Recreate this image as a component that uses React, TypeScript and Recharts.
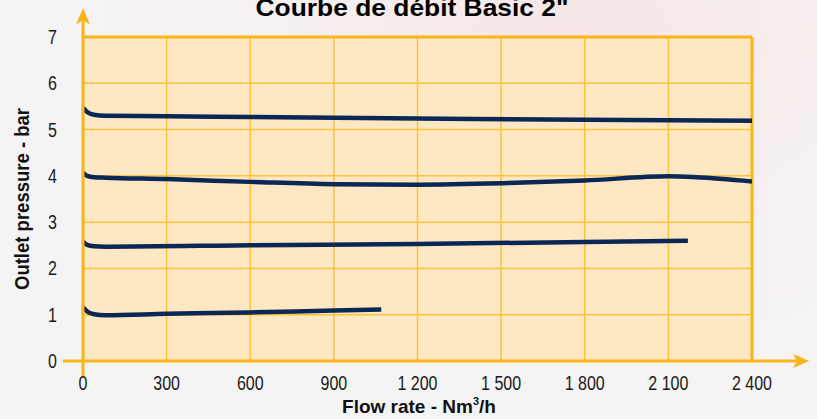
import React from 'react';
import { LineChart, Line, XAxis, YAxis, CartesianGrid, ReferenceLine, Label } from 'recharts';

const xTicks = [0, 300, 600, 900, 1200, 1500, 1800, 2100, 2400];
const yTicks = [0, 1, 2, 3, 4, 5, 6, 7];

const series55 = [
  { flow: 0, p: 5.47 }, { flow: 15, p: 5.38 }, { flow: 40, p: 5.32 }, { flow: 80, p: 5.3 },
  { flow: 300, p: 5.29 }, { flow: 600, p: 5.27 }, { flow: 1200, p: 5.24 }, { flow: 1800, p: 5.21 }, { flow: 2400, p: 5.19 },
];
const series40 = [
  { flow: 0, p: 4.07 }, { flow: 15, p: 4.0 }, { flow: 40, p: 3.97 }, { flow: 80, p: 3.96 },
  { flow: 300, p: 3.93 }, { flow: 600, p: 3.87 }, { flow: 900, p: 3.82 }, { flow: 1200, p: 3.81 },
  { flow: 1500, p: 3.84 }, { flow: 1800, p: 3.9 }, { flow: 2100, p: 3.99 }, { flow: 2200, p: 3.97 }, { flow: 2400, p: 3.88 },
];
const series25 = [
  { flow: 0, p: 2.58 }, { flow: 15, p: 2.51 }, { flow: 40, p: 2.48 }, { flow: 80, p: 2.47 },
  { flow: 600, p: 2.5 }, { flow: 1200, p: 2.53 }, { flow: 1800, p: 2.57 }, { flow: 2170, p: 2.6 },
];
const series11 = [
  { flow: 0, p: 1.16 }, { flow: 15, p: 1.07 }, { flow: 40, p: 1.01 }, { flow: 80, p: 0.99 },
  { flow: 300, p: 1.02 }, { flow: 600, p: 1.05 }, { flow: 900, p: 1.09 }, { flow: 1070, p: 1.11 },
];
const allSeries = [series55, series40, series25, series11];

const ORANGE = '#FBB417';
const GRID = '#FDC13A';
const NAVY = '#0A2756';
const FONT = '"Liberation Sans", Arial, Helvetica, sans-serif';

const fmtFlow = (v: number) => (v >= 1000 ? `${Math.floor(v / 1000)} ${String(v % 1000).padStart(3, '0')}` : String(v));

const XTick = (props: any) => {
  const { x, y, payload } = props;
  return (
    <g transform={`translate(${x},${y}) scale(0.8,1)`}>
      <text x={0} y={29} textAnchor="middle" fontFamily={FONT} fontSize={20} fill="#1a1a1a">{fmtFlow(payload.value)}</text>
    </g>
  );
};
const YTick = (props: any) => {
  const { x, y, payload } = props;
  return (
    <g transform={`translate(${x},${y}) scale(0.8,1)`}>
      <text x={0} y={7} textAnchor="end" fontFamily={FONT} fontSize={20} fill="#1a1a1a">{payload.value}</text>
    </g>
  );
};

const HArrow = (props: any) => {
  const { x1, y1, x2 } = props;
  return (
    <g>
      <line x1={x1} y1={y1} x2={x2 - 12} y2={y1} stroke={ORANGE} strokeWidth={3} />
      <polygon points={`${x2},${y1} ${x2 - 16},${y1 - 7} ${x2 - 12},${y1} ${x2 - 16},${y1 + 7}`} fill={ORANGE} />
    </g>
  );
};
const VArrow = (props: any) => {
  const { x1, y1, y2 } = props;
  const top = Math.min(y1, y2);
  const bot = Math.max(y1, y2);
  return (
    <g>
      <line x1={x1} y1={bot} x2={x1} y2={top + 12} stroke={ORANGE} strokeWidth={3} />
      <polygon points={`${x1},${top} ${x1 - 7},${top + 16} ${x1},${top + 12} ${x1 + 7},${top + 16}`} fill={ORANGE} />
    </g>
  );
};

export default function App() {
  return (
    <div style={{ position: 'absolute', left: 0, top: 0, width: 817, height: 419,
      background: 'radial-gradient(ellipse at 70% 10%, #f7e6e6 0%, #f6f1f1 40%, #f5f4f4 70%)' }}>
      <LineChart width={817} height={419} margin={{ top: 37, right: 65, bottom: 0, left: 0 }}>
        <CartesianGrid stroke={GRID} strokeWidth={1.5} fill="#FEE8C4" fillOpacity={1} />
        <XAxis dataKey="flow" type="number" domain={[0, 2400]} ticks={xTicks} allowDuplicatedCategory={false}
          height={58} axisLine={false} tickLine={false} tickSize={0} tickMargin={0} tick={<XTick />}>
          <Label content={() => (
            <g>
              <text x={412} y={16} textAnchor="middle" fontFamily={FONT} fontWeight="bold" fontSize={24} fill="#000"
                textLength={313} lengthAdjust="spacingAndGlyphs">Courbe de débit Basic 2"</text>
              <text x={419} y={413} textAnchor="middle" fontFamily={FONT} fontWeight="bold" fontSize={19} fill="#111">
                <tspan>Flow rate - Nm</tspan><tspan fontSize={11} dy={-8}>3</tspan><tspan dy={8}>/h</tspan>
              </text>
            </g>
          )} />
        </XAxis>
        <YAxis dataKey="p" type="number" domain={[0, 7]} ticks={yTicks} width={83}
          axisLine={false} tickLine={false} tickSize={0} tickMargin={26} tick={<YTick />}>
          <Label content={() => (
            <text x={29} y={199} transform="rotate(-90 29 199)" textAnchor="middle" fontFamily={FONT}
              fontWeight="bold" fontSize={20} fill="#111" textLength={182} lengthAdjust="spacingAndGlyphs">Outlet pressure - bar</text>
          )} />
        </YAxis>
        <ReferenceLine segment={[{ x: 0, y: 7 }, { x: 2400, y: 7 }]} stroke={ORANGE} strokeWidth={3} ifOverflow="visible" />
        <ReferenceLine segment={[{ x: 2400, y: 0 }, { x: 2400, y: 7 }]} stroke={ORANGE} strokeWidth={3} ifOverflow="visible" />
        {allSeries.map((s, i) => (
          <Line key={i} data={s} dataKey="p" type="monotone" stroke={NAVY} strokeWidth={4.5}
            dot={false} isAnimationActive={false} strokeLinecap="butt" />
        ))}
        <ReferenceLine segment={[{ x: -72, y: 0 }, { x: 2605, y: 0 }]} ifOverflow="visible" shape={HArrow} />
        <ReferenceLine segment={[{ x: 0, y: -0.35 }, { x: 0, y: 7.62 }]} ifOverflow="visible" shape={VArrow} />
      </LineChart>
    </div>
  );
}
